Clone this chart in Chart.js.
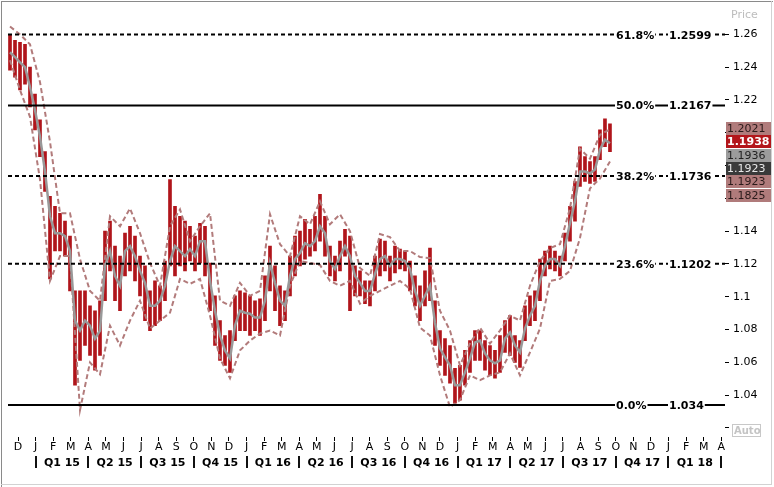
<!DOCTYPE html>
<html>
<head>
<meta charset="utf-8">
<script src="https://cdn.jsdelivr.net/npm/chart.js@4.4.1/dist/chart.umd.min.js"></script>
<style>
  html, body { margin: 0; padding: 0; background: #fff; }
  #wrap { width: 774px; height: 487px; position: relative; }
</style>
</head>
<body>
<div id="wrap"><canvas id="chart"></canvas></div>
<script>
// x unit = months since 1 Dec 2014; one sample every ~8.7 days
const firstSample = -0.455;
const sampleStep = 0.2844;

const candleHigh = [
  1.2594, 1.2564, 1.2552, 1.2539, 1.2400, 1.2236, 1.2079, 1.1885, 1.1612, 1.1552,
  1.1509, 1.1461, 1.1370, 1.1036, 1.1036, 1.1036, 1.0945, 1.0915, 1.0976, 1.1400,
  1.1461, 1.1309, 1.1248, 1.1388, 1.1430, 1.1370, 1.1248, 1.1188, 1.1036, 1.1097,
  1.1067, 1.1218, 1.1715, 1.1552, 1.1491, 1.1461, 1.1430, 1.1370, 1.1448, 1.1430,
  1.1206, 1.1006, 1.0855, 1.0764, 1.0794, 1.1006, 1.1036, 1.1024, 1.1006, 1.0976,
  1.0988, 1.1127, 1.1309, 1.1188, 1.1067, 1.1036, 1.1248, 1.1370, 1.1400, 1.1473,
  1.1412, 1.1491, 1.1624, 1.1491, 1.1309, 1.1248, 1.1339, 1.1412, 1.1370, 1.1188,
  1.1158, 1.1097, 1.1097, 1.1248, 1.1352, 1.1339, 1.1248, 1.1309, 1.1291, 1.1279,
  1.1218, 1.1127, 1.1067, 1.1158, 1.1297, 1.0976, 1.0794, 1.0745, 1.0703, 1.0564,
  1.0582, 1.0673, 1.0733, 1.0794, 1.0794, 1.0733, 1.0703, 1.0673, 1.0764, 1.0855,
  1.0885, 1.0764, 1.0733, 1.0945, 1.1006, 1.1036, 1.1230, 1.1279, 1.1309, 1.1279,
  1.1248, 1.1388, 1.1552, 1.1703, 1.1915, 1.1855, 1.1824, 1.1855, 1.2018, 1.2085,
  1.2055
];
const candleLow = [
  1.2382, 1.2339, 1.2261, 1.2297, 1.2158, 1.2018, 1.1855, 1.1642, 1.1109, 1.1279,
  1.1279, 1.1248, 1.1036, 1.0461, 1.0612, 1.0703, 1.0642, 1.0552, 1.0642, 1.0976,
  1.1158, 1.0976, 1.0915, 1.1127, 1.1158, 1.1097, 1.1006, 1.0855, 1.0794, 1.0824,
  1.0855, 1.0976, 1.1188, 1.1127, 1.1188, 1.1158, 1.1218, 1.1158, 1.1206, 1.1127,
  1.0915, 1.0703, 1.0612, 1.0582, 1.0539, 1.0733, 1.0794, 1.0794, 1.0764, 1.0794,
  1.0764, 1.0855, 1.1036, 1.0915, 1.0824, 1.0855, 1.1006, 1.1127, 1.1188, 1.1230,
  1.1248, 1.1279, 1.1339, 1.1248, 1.1127, 1.1097, 1.1158, 1.1248, 1.0915, 1.1006,
  1.1006, 1.0958, 1.0945, 1.1036, 1.1127, 1.1158, 1.1097, 1.1145, 1.1170, 1.1158,
  1.1036, 1.0945, 1.0855, 1.0945, 1.0976, 1.0703, 1.0582, 1.0521, 1.0473, 1.0352,
  1.0370, 1.0461, 1.0539, 1.0612, 1.0612, 1.0552, 1.0521, 1.0503, 1.0539, 1.0661,
  1.0642, 1.0600, 1.0570, 1.0733, 1.0824, 1.0855, 1.0976, 1.1127, 1.1170, 1.1158,
  1.1127, 1.1218, 1.1339, 1.1461, 1.1673, 1.1703, 1.1691, 1.1703, 1.1836, 1.1915,
  1.1885
];
const movingAvg = [
  1.2491, 1.2461, 1.2430, 1.2400, 1.2279, 1.2139, 1.1976, 1.1764, 1.1491, 1.1388,
  1.1388, 1.1370, 1.1279, 1.0855, 1.0794, 1.0855, 1.0824, 1.0745, 1.0794, 1.1188,
  1.1279, 1.1127, 1.1067, 1.1279, 1.1309, 1.1248, 1.1158, 1.1085, 1.0945, 1.0945,
  1.0976, 1.1067, 1.1218, 1.1309, 1.1279, 1.1248, 1.1291, 1.1248, 1.1339, 1.1339,
  1.1097, 1.0915, 1.0764, 1.0673, 1.0624, 1.0824, 1.0915, 1.0903, 1.0897, 1.0873,
  1.0873, 1.0976, 1.1206, 1.1085, 1.0976, 1.0945, 1.1127, 1.1230, 1.1267, 1.1327,
  1.1309, 1.1339, 1.1430, 1.1388, 1.1218, 1.1170, 1.1248, 1.1309, 1.1248, 1.1127,
  1.1085, 1.1036, 1.1036, 1.1139, 1.1230, 1.1248, 1.1188, 1.1230, 1.1230, 1.1218,
  1.1170, 1.1036, 1.0945, 1.1006, 1.1067, 1.0842, 1.0685, 1.0630, 1.0582, 1.0461,
  1.0461, 1.0539, 1.0624, 1.0721, 1.0733, 1.0655, 1.0612, 1.0594, 1.0612, 1.0745,
  1.0782, 1.0703, 1.0661, 1.0806, 1.0885, 1.0945, 1.1097, 1.1188, 1.1230, 1.1230,
  1.1188, 1.1309, 1.1448, 1.1582, 1.1764, 1.1764, 1.1752, 1.1776, 1.1897, 1.1958,
  1.1936
];
// bands are read at every second sample
const bandUpper = [
  1.2648, 1.2600, 1.2539, 1.2309, 1.1945, 1.1509, 1.1509, 1.1230, 1.1036, 1.0976,
  1.1491, 1.1430, 1.1539, 1.1388, 1.1206, 1.1067, 1.1430, 1.1533, 1.1339, 1.1430,
  1.1509, 1.0976, 1.0945, 1.1085, 1.1006, 1.1036, 1.1503, 1.1321, 1.1248, 1.1491,
  1.1442, 1.1582, 1.1442, 1.1503, 1.1400, 1.1176, 1.1127, 1.1382, 1.1364, 1.1279,
  1.1279, 1.1242, 1.1236, 1.0915, 1.0794, 1.0582, 1.0715, 1.0812, 1.0715, 1.0794,
  1.0885, 1.0855, 1.1067, 1.1218, 1.1297, 1.1321, 1.1539, 1.1903, 1.1842, 1.1988,
  1.2021
];
const bandLower = [
  1.2442, 1.2261, 1.2097, 1.1715, 1.1097, 1.1248, 1.1248, 1.0309, 1.0600, 1.0527,
  1.0824, 1.0703, 1.0855, 1.0976, 1.0806, 1.0855, 1.0903, 1.1109, 1.1079, 1.1109,
  1.0885, 1.0624, 1.0503, 1.0673, 1.0733, 1.0776, 1.0794, 1.0764, 1.1067, 1.1218,
  1.1206, 1.1194, 1.1097, 1.1067, 1.1097, 1.0958, 1.1006, 1.1036, 1.1067, 1.1097,
  1.1048, 1.0812, 1.0764, 1.0521, 1.0327, 1.0370, 1.0521, 1.0491, 1.0521, 1.0539,
  1.0655, 1.0521, 1.0661, 1.0806, 1.1097, 1.1109, 1.1158, 1.1358, 1.1661, 1.1721,
  1.1825
];

const fibPct = ['61.8%', '50.0%', '38.2%', '23.6%', '0.0%'];
const fibValue = [1.2599, 1.2167, 1.1736, 1.1202, 1.034];
const fibText = ['1.2599', '1.2167', '1.1736', '1.1202', '1.034'];
const fibDashed = [true, false, true, true, false];

const priceTags = ['1.2021', '1.1938', '1.1936', '1.1923', '1.1923', '1.1825'];
const tagFill = ['#b07b7b', '#b3161b', '#9c9c9c', '#3a3a3a', '#b07b7b', '#b07b7b'];
const tagInk = ['#2a1a1a', '#ffffff', '#222222', '#e8e8e8', '#2a1a1a', '#2a1a1a'];

const yTicks = [1.02, 1.04, 1.06, 1.08, 1.10, 1.12, 1.14, 1.16, 1.18, 1.20, 1.22, 1.24, 1.26];
const monthLetters = [
  'D',
  'J', 'F', 'M', 'A', 'M', 'J', 'J', 'A', 'S', 'O', 'N', 'D',
  'J', 'F', 'M', 'A', 'M', 'J', 'J', 'A', 'S', 'O', 'N', 'D',
  'J', 'F', 'M', 'A', 'M', 'J', 'J', 'A', 'S', 'O', 'N', 'D',
  'J', 'F', 'M', 'A'
];
const quarterLabels = ['Q1 15', 'Q2 15', 'Q3 15', 'Q4 15', 'Q1 16', 'Q2 16', 'Q3 16',
  'Q4 16', 'Q1 17', 'Q2 17', 'Q3 17', 'Q4 17', 'Q1 18'];
const quarterStart = [1, 4, 7, 10, 13, 16, 19, 22, 25, 28, 31, 34, 37, 40];

const xMin = -0.569, xMax = 40.216;
const yMin = 1.0145, yMax = 1.2745;
const FONT = '"DejaVu Sans", Verdana, sans-serif';

const xAt = i => firstSample + i * sampleStep;

const datasets = [];
fibValue.forEach((v, i) => {
  datasets.push({
    type: 'line',
    data: [{ x: xMin, y: v }, { x: xMax, y: v }],
    borderColor: '#000',
    borderWidth: 2,
    borderDash: fibDashed[i] ? [4, 3] : [],
    pointRadius: 0,
    order: 1
  });
});
datasets.push({
  type: 'line',
  data: movingAvg.map((v, i) => ({ x: xAt(i), y: v })),
  borderColor: '#999999',
  borderWidth: 2.5,
  pointRadius: 0,
  order: 2
});
[bandUpper, bandLower].forEach(band => {
  datasets.push({
    type: 'line',
    data: band.map((v, j) => ({ x: xAt(j * 2), y: v })),
    borderColor: '#b27b7b',
    borderWidth: 2,
    borderDash: [5, 3],
    pointRadius: 0,
    order: 3
  });
});
datasets.push({
  type: 'bar',
  data: candleHigh.map((h, i) => ({ x: xAt(i), y: [candleLow[i], h] })),
  backgroundColor: '#b0151b',
  barThickness: 3,
  order: 5
});

// labels, price tags and frame drawn on top
const overlay = {
  id: 'overlay',
  afterDraw(chart) {
    const { ctx, chartArea: area, scales } = chart;
    const ys = scales.y, xs = scales.x;
    ctx.save();
    ctx.textBaseline = 'middle';

    // fib labels
    ctx.font = 'bold 11px ' + FONT;
    fibValue.forEach((v, i) => {
      const py = Math.round(ys.getPixelForValue(v));
      [[fibPct[i], area.right - 109], [fibText[i], area.right - 56]].forEach(([t, tx]) => {
        const w = ctx.measureText(t).width;
        ctx.fillStyle = '#fff';
        ctx.fillRect(tx - 1, py - 6, w + 2, 12);
        ctx.fillStyle = '#000';
        ctx.fillText(t, tx, py + 1);
      });
    });

    // price tags on the axis
    const top0 = Math.round(ys.getPixelForValue(+priceTags[0]) - 7);
    priceTags.forEach((t, i) => {
      const top = Math.round(top0 + i * 13.33);
      ctx.fillStyle = tagFill[i];
      ctx.fillRect(area.right + 1, top, 46, 13);
      ctx.fillStyle = tagInk[i];
      ctx.font = (i === 1 ? 'bold ' : '') + '11px ' + FONT;
      ctx.fillText(t, area.right + 2, top + 7);
    });

    // header and auto box
    ctx.font = '11px ' + FONT;
    ctx.fillStyle = '#bdbdbd';
    ctx.fillText('Price', 731, 15);
    ctx.strokeStyle = '#c8c8c8';
    ctx.lineWidth = 1;
    ctx.strokeRect(732.5, 424.5, 28, 12);
    ctx.font = 'bold 10px ' + FONT;
    ctx.fillStyle = '#c4c4c4';
    ctx.fillText('Auto', 734, 431);

    // quarter separators
    ctx.fillStyle = '#111';
    quarterStart.forEach(m => {
      const px = Math.round(xs.getPixelForValue(m));
      ctx.fillRect(px - 1, 456, 2, 12);
    });

    // frame
    ctx.fillStyle = '#8a8a8a';
    ctx.fillRect(1, 1, 1, 486);
    ctx.fillRect(1, 1, 772, 1);
    ctx.fillStyle = '#d2d2d2';
    ctx.fillRect(771, 1, 1, 484);
    ctx.fillRect(1, 484, 771, 1);
    ctx.restore();
  }
};

new Chart(document.getElementById('chart'), {
  type: 'bar',
  data: { datasets },
  options: {
    responsive: true,
    maintainAspectRatio: false,
    devicePixelRatio: 1,
    animation: false,
    layout: { padding: { left: 8, right: 0, top: 8, bottom: 0 } },
    plugins: { legend: { display: false }, tooltip: { enabled: false } },
    scales: {
      x: {
        type: 'linear',
        position: 'bottom',
        weight: 0,
        min: xMin,
        max: xMax,
        offset: false,
        afterBuildTicks: s => { s.ticks = monthLetters.map((_, i) => ({ value: i })); },
        afterFit: s => { s.height = 20; },
        grid: { drawOnChartArea: false, drawTicks: true, tickLength: 4, color: '#000', lineWidth: 1, offset: false },
        border: { display: false },
        ticks: {
          autoSkip: false, maxRotation: 0, minRotation: 0, padding: 0, color: '#000',
          font: { family: FONT, size: 11 },
          callback: (v, i) => monthLetters[i]
        }
      },
      x2: {
        type: 'linear',
        position: 'bottom',
        weight: 1,
        min: xMin,
        max: xMax,
        offset: false,
        afterBuildTicks: s => {
          s.ticks = quarterLabels.map((_, i) => ({ value: (quarterStart[i] + quarterStart[i + 1]) / 2 }));
        },
        afterFit: s => { s.height = 30; },
        grid: { display: false, drawTicks: false },
        border: { display: false },
        ticks: {
          autoSkip: false, maxRotation: 0, minRotation: 0, padding: 0, color: '#000',
          font: { family: FONT, size: 11, weight: 'bold' },
          callback: (v, i) => quarterLabels[i]
        }
      },
      y: {
        type: 'linear',
        position: 'right',
        min: yMin,
        max: yMax,
        afterBuildTicks: s => { s.ticks = yTicks.map(v => ({ value: v })); },
        afterFit: s => { s.width = 49; },
        grid: { drawOnChartArea: false, drawTicks: true, tickLength: 4, color: '#000' },
        border: { display: false },
        ticks: {
          padding: 4, color: '#000',
          font: { family: FONT, size: 11 },
          callback: v => (v < 1.03 ? '' : String(+v.toFixed(2)))
        }
      }
    }
  },
  plugins: [overlay]
});
</script>
</body>
</html>
